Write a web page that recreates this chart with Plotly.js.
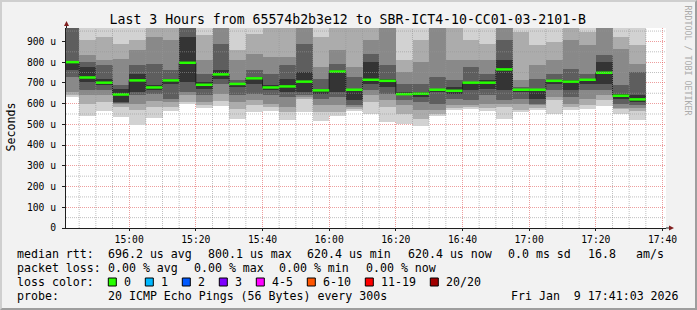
<!DOCTYPE html>
<html><head><meta charset="utf-8">
<script src="https://cdn.plot.ly/plotly-3.0.1.min.js"></script>
<style>
html,body{margin:0;padding:0;background:#f2f2f2;}
#wrap{position:relative;width:697px;height:310px;overflow:hidden;}
#chart{width:697px;height:310px;}
#frame{position:absolute;left:0;top:0;width:697px;height:310px;box-sizing:border-box;border:2px solid;border-color:#cfcfcf #9e9e9e #9e9e9e #cfcfcf;pointer-events:none;}
</style></head>
<body><div id="wrap"><div id="chart"></div><div id="frame"></div></div>
<script>
// ---- data (microseconds) ----
const binStart = ['14:40','14:45','14:50','14:55','15:00','15:05','15:10','15:15','15:20','15:25','15:30','15:35','15:40','15:45','15:50','15:55','16:00','16:05','16:10','16:15','16:20','16:25','16:30','16:35','16:40','16:45','16:50','16:55','17:00','17:05','17:10','17:15','17:20','17:25','17:30'];
const lo1 = [632,538,564,535,497,532,564,600,580,588,527,559,565,522,560,516,538,564,551,511,503,490,538,570,575,564,527,559,570,551,570,575,587,551,522];
const lo2 = [640,600,608,583,567,583,583,608,592,615,575,592,584,559,620,559,559,575,608,583,551,527,548,580,583,580,583,567,580,616,583,592,616,575,564];
const lo3 = [656,640,640,598,600,615,608,640,608,648,608,616,600,583,632,592,592,585,640,616,592,567,567,592,592,600,600,600,592,632,600,624,640,580,580];
const lo4 = [728,664,664,604,640,648,624,656,640,696,640,648,640,632,640,624,632,592,664,648,616,608,600,624,616,640,616,624,600,664,632,664,664,600,592];
const lo5 = [760,704,688,608,656,667,696,704,672,720,680,696,664,656,656,648,656,616,696,680,640,632,656,648,664,672,664,656,624,696,664,696,696,624,608];
const median = [800.1,726,701,644,712,678,712,797,691,741,695,722,678,683,706,664,755,667,715,710,646,648,667,662,701,701,765,667,667,710,706,715,749,638,620.4];
const hi5 = [805,776,720,672,744,688,720,921,704,760,700,728,690,720,752,672,760,672,800,720,656,656,672,680,704,712,809,672,672,715,712,720,800,648,640];
const hi4 = [1000,800,784,688,784,792,760,1000,744,889,712,760,745,784,889,720,792,728,841,784,696,696,728,712,776,744,905,680,720,744,768,744,833,688,752];
const hi3 = [1000,833,809,817,857,921,905,1000,809,1000,809,841,825,825,1000,776,857,776,905,1000,752,800,1000,809,809,809,1000,712,784,809,905,881,1000,865,793];
const hi2 = [1000,905,921,889,905,1000,1000,1000,929,1000,857,937,1000,1000,1000,921,1000,1000,1000,1000,809,905,1000,1000,905,889,1000,945,881,897,1000,945,1000,921,881];
const hi1 = [1000,1000,1000,1000,1000,1000,1000,1000,1000,1000,1000,1000,1000,1000,1000,1000,1000,1000,1000,1000,1000,1000,1000,1000,1000,1000,1000,1000,1000,1000,1000,1000,1000,1000,1000];
const yTickVals = [0,100,200,300,400,500,600,700,800,900];
const yTickText = ['0','100 u','200 u','300 u','400 u','500 u','600 u','700 u','800 u','900 u'];
const yMinorVals = [50,150,250,350,450,550,650,750,850,950];
const xMinorTimes = ['14:45','14:50','14:55','15:05','15:10','15:15','15:25','15:30','15:35','15:45','15:50','15:55','16:05','16:10','16:15','16:25','16:30','16:35','16:45','16:50','16:55','17:05','17:10','17:15','17:25','17:30','17:35'];
const lossLabels = ['0','1','2','3','4-5','6-10','11-19','20/20'];
const lossColors = ['#26ff00','#00b8ff','#0059ff','#7e00ff','#ff00ff','#ff5500','#ff0000','#a10000'];
const legendRows = [
  [['median rtt:',16],['696.2 us avg',107.3],['800.1 us max',207.3],['620.4 us min',306],['620.4 us now',406.7],['0.0 ms sd',506.7],['16.8',586.7],['am/s',635]],
  [['packet loss:',16],['0.00 % avg',107.3],['0.00 % max',193.3],['0.00 % min',278.3],['0.00 % now',365]],
  [['loss color:',16]],
  [['probe:',16],['20 ICMP Echo Pings (56 Bytes) every 300s',107.3]]
];
const stamp = 'Fri Jan\u00a0\u00a09 17:41:03 2026';

// ---- geometry ----
const FONT = '"DejaVu Sans Mono", monospace';
const L = 66, W = 600, T = 28, H = 200;
const px = x => (x - L) / W;
const py = y => (T + H - y) / H;
const toMs = hm => { const [h, m] = hm.split(':').map(Number); return Date.UTC(2026, 0, 9, h, m); };
const STEP = 300000;
const xs = binStart.map(toMs);
const xStart = Date.UTC(2026, 0, 9, 14, 41, 3), xEnd = Date.UTC(2026, 0, 9, 17, 41, 3);
const yMax = 964.8;

const levels = [[lo1, hi1, '#d2d2d2'], [lo2, hi2, '#acacac'], [lo3, hi3, '#898989'], [lo4, hi4, '#5e5e5e'], [lo5, hi5, '#343434']];
const traces = levels.map(([lo, hi, c]) => ({
  type: 'bar', x: xs, base: lo, y: hi.map((v, i) => v - lo[i]), width: STEP, offset: 0,
  marker: { color: c, line: { width: 0 } }, hoverinfo: 'skip', showlegend: false
}));
const n = xs.length;
traces.push({
  type: 'scatter', mode: 'lines', x: xs.concat([xs[n - 1] + STEP]), y: median.concat([median[n - 1]]),
  line: { shape: 'hv', color: '#202020', width: 1 }, hoverinfo: 'skip', showlegend: false
});
const gx = [], gy = [];
xs.forEach((x, i) => { gx.push(x, x + STEP, null); gy.push(median[i], median[i], null); });
traces.push({ type: 'scatter', mode: 'lines', x: gx, y: gy, line: { color: lossColors[0], width: 2.5 }, hoverinfo: 'skip', showlegend: false });

const GRID = 'rgba(150,150,150,0.6)', MGRID = 'rgba(222,79,79,0.55)';
const annotations = [];
const shapes = [];
// minor grid (drawn above the smoke like rrdtool)
xMinorTimes.forEach(tm => shapes.push({ type: 'line', layer: 'above', xref: 'x', yref: 'paper', x0: toMs(tm), x1: toMs(tm), y0: 0, y1: 1,
  line: { color: GRID, width: 1, dash: '1px,1px' } }));
yMinorVals.forEach(v => shapes.push({ type: 'line', layer: 'above', xref: 'paper', yref: 'y', x0: 0, x1: 1, y0: v, y1: v,
  line: { color: GRID, width: 1, dash: '1px,1px' } }));
const ann = (text, x, y, o = {}) => annotations.push(Object.assign({
  text, xref: 'paper', yref: 'paper', x: px(x), y: py(y), xanchor: 'left', yanchor: 'middle',
  showarrow: false, borderpad: 0, font: { family: FONT, size: 11.6, color: '#000' }
}, o));
const rowY = [254.3, 268.2, 281.9, 295.8];
legendRows.forEach((row, r) => row.forEach(([txt, x]) => ann(txt, x, rowY[r])));
ann(stamp, 680, rowY[3], { xanchor: 'right' });
let bx = 108.3;
lossLabels.forEach((lab, i) => {
  shapes.push({ type: 'rect', xref: 'paper', yref: 'paper', x0: px(bx), x1: px(bx + 8), y0: py(286), y1: py(278),
    fillcolor: lossColors[i], line: { color: '#000', width: 1 } });
  ann(lab, bx + 15, rowY[2]);
  bx = bx + 15 + lab.length * 7 + 15;
});
ann('Seconds', 10.5, 127, { xanchor: 'center', textangle: -90 });
ann('RRDTOOL / TOBI OETIKER', 687.5, 60, { xanchor: 'center', textangle: 90, font: { family: FONT, size: 8.3, color: '#ababab' } });
// axis extensions + arrows
shapes.push({ type: 'line', xref: 'paper', yref: 'paper', x0: px(666), x1: px(670), y0: py(228), y1: py(228), line: { color: '#1f1f1f', width: 1 } });
shapes.push({ type: 'line', xref: 'paper', yref: 'paper', x0: px(66.5), x1: px(66.5), y0: py(28), y1: py(24), line: { color: '#1f1f1f', width: 1 } });
shapes.push({ type: 'path', xref: 'paper', yref: 'paper', fillcolor: '#801f1f', line: { width: 0 },
  path: `M${px(669)},${py(225.5)} L${px(674)},${py(228)} L${px(669)},${py(230.5)} Z` });
shapes.push({ type: 'path', xref: 'paper', yref: 'paper', fillcolor: '#801f1f', line: { width: 0 },
  path: `M${px(64)},${py(26)} L${px(66.5)},${py(21)} L${px(69)},${py(26)} Z` });

const layout = {
  width: 697, height: 310, autosize: false,
  margin: { l: L, r: 697 - L - W, t: T, b: 310 - T - H, pad: 0 },
  paper_bgcolor: '#f2f2f2', plot_bgcolor: '#ffffff',
  barmode: 'overlay', bargap: 0, showlegend: false,
  title: { text: 'Last 3 Hours from 65574b2b3e12 to SBR-ICT4-10-CC01-03-2101-B', xref: 'container', yref: 'container',
    x: 0.499, y: 1 - 19 / 310, xanchor: 'center', yanchor: 'middle', font: { family: FONT, size: 13.2, color: '#000' } },
  xaxis: {
    type: 'date', range: [xStart, xEnd], tickmode: 'linear', tick0: Date.UTC(2026, 0, 9, 15, 0), dtick: 1200000,
    tickformat: '%H:%M', showgrid: true, gridcolor: MGRID, griddash: '1px,1px', gridwidth: 1,
    layer: 'above traces', showline: true, linecolor: '#1f1f1f', linewidth: 1, ticks: 'outside', ticklen: 2, tickcolor: '#1f1f1f',
    tickfont: { family: FONT, size: 9.7, color: '#000' }, zeroline: false, fixedrange: true
  },
  yaxis: {
    range: [0, yMax], tickmode: 'array', tickvals: yTickVals, ticktext: yTickText,
    showgrid: true, gridcolor: MGRID, griddash: '1px,1px', gridwidth: 1,
    layer: 'above traces', showline: true, linecolor: '#1f1f1f', linewidth: 1, ticks: 'outside', ticklen: 3, tickcolor: '#1f1f1f',
    tickfont: { family: FONT, size: 9.7, color: '#000' }, zeroline: false, fixedrange: true, ticklabelstandoff: 4
  },
  annotations, shapes
};
Plotly.newPlot('chart', traces, layout, { staticPlot: true, displayModeBar: false });
</script></body></html>
